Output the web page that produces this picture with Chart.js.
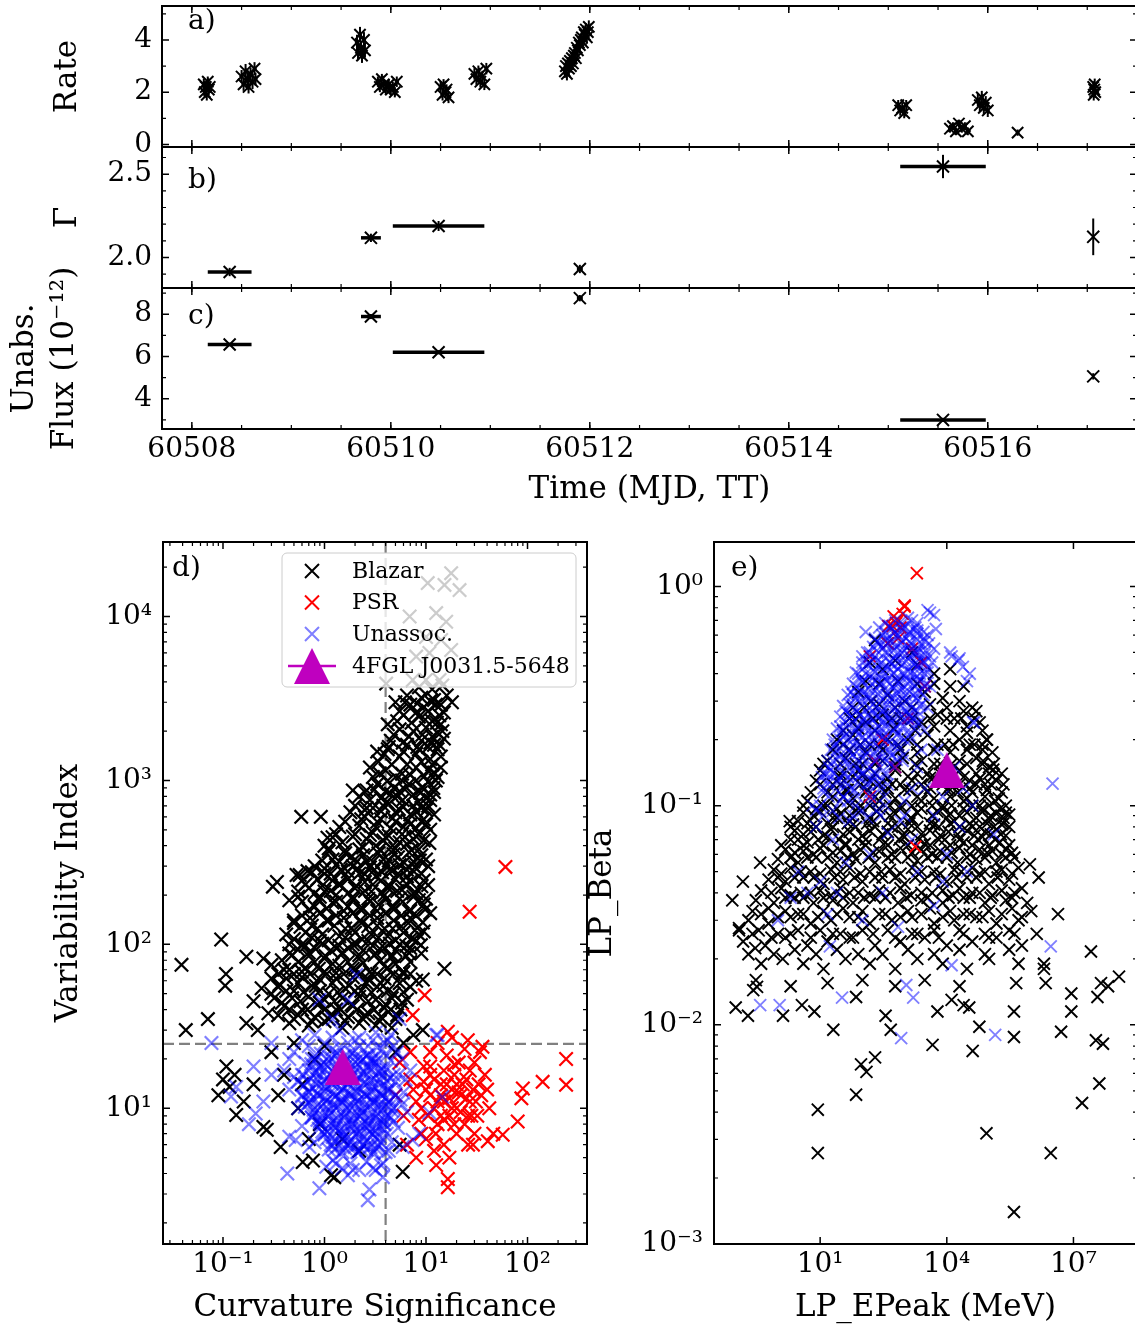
<!DOCTYPE html>
<html>
<head>
<meta charset="utf-8">
<script src="https://cdn.jsdelivr.net/npm/chart.js@4.4.0/dist/chart.umd.min.js"></script>
<style>
html, body { margin: 0; padding: 0; background: #fff; width: 1135px; height: 1328px; overflow: hidden; }
canvas { position: absolute; }
</style>
</head>
<body>
<canvas id="panelA" width="1140" height="165" style="left:0;top:0"></canvas>
<canvas id="panelB" width="1140" height="141" style="left:0;top:147px"></canvas>
<canvas id="panelC" width="1140" height="272" style="left:0;top:238px"></canvas>
<canvas id="panelD" width="600" height="798" style="left:0;top:530px"></canvas>
<canvas id="panelE" width="580" height="798" style="left:560px;top:530px"></canvas>
<script>
// ---- a) count rate light curve ----
const rateTime = [
  60508.12, 60508.13, 60508.14, 60508.15, 60508.16, 60508.17, 60508.18,
  60508.50, 60508.52, 60508.54, 60508.56, 60508.57, 60508.59, 60508.61, 60508.63, 60508.64,
  60509.66, 60509.67, 60509.69, 60509.70, 60509.71, 60509.73, 60509.74,
  60509.87, 60509.89, 60509.91, 60509.93, 60509.95,
  60509.98, 60510.00, 60510.02, 60510.04, 60510.06,
  60510.50, 60510.52, 60510.53, 60510.55, 60510.56, 60510.58,
  60510.84, 60510.86, 60510.88, 60510.90, 60510.92, 60510.94, 60510.96,
  60511.75, 60511.76, 60511.77, 60511.78, 60511.79, 60511.80, 60511.81, 60511.82, 60511.83,
  60511.84, 60511.85, 60511.86, 60511.87, 60511.88, 60511.89, 60511.90, 60511.91, 60511.92,
  60511.93, 60511.94, 60511.95, 60511.96, 60511.97, 60511.98, 60511.99,
  60515.10, 60515.12, 60515.14, 60515.16, 60515.18,
  60515.62, 60515.65, 60515.68, 60515.71, 60515.74, 60515.77, 60515.80,
  60515.90, 60515.92, 60515.94, 60515.96, 60515.98, 60516.00,
  60516.30,
  60517.06, 60517.065, 60517.07, 60517.075, 60517.08
];
const rateValue = [
  2.3, 2.0, 2.2, 1.9, 2.4, 2.1, 2.2,
  2.6, 2.3, 2.8, 2.5, 2.2, 2.7, 2.4, 2.9, 2.5,
  3.9, 3.5, 4.2, 3.7, 3.4, 4.0, 3.6,
  2.4, 2.2, 2.5, 2.3, 2.1,
  2.3, 2.1, 2.2, 2.0, 2.4,
  2.2, 1.9, 2.3, 2.0, 2.1, 1.8,
  2.7, 2.5, 2.8, 2.4, 2.6, 2.3, 2.9,
  2.8, 3.0, 2.7, 3.1, 2.9, 3.2, 3.0, 3.3, 3.1,
  3.4, 3.5, 3.3, 3.7, 3.6, 3.9, 3.8, 4.0, 4.1,
  3.9, 4.3, 4.2, 4.4, 4.1, 4.3, 4.5,
  1.5, 1.3, 1.4, 1.2, 1.5,
  0.6, 0.7, 0.5, 0.8, 0.6, 0.7, 0.5,
  1.7, 1.5, 1.8, 1.4, 1.6, 1.3,
  0.45,
  2.2, 1.9, 2.1, 2.3, 2.0
];
const rateErr = [
  0.22, 0.22, 0.2, 0.22, 0.2, 0.22, 0.2,
  0.25, 0.25, 0.28, 0.25, 0.25, 0.25, 0.28, 0.25, 0.25,
  0.3, 0.28, 0.3, 0.28, 0.28, 0.3, 0.28,
  0.2, 0.2, 0.2, 0.2, 0.2,
  0.2, 0.2, 0.2, 0.2, 0.2,
  0.22, 0.22, 0.2, 0.22, 0.2, 0.22,
  0.22, 0.22, 0.22, 0.22, 0.22, 0.22, 0.22,
  0.25, 0.25, 0.25, 0.25, 0.25, 0.25, 0.25, 0.25, 0.25,
  0.25, 0.25, 0.25, 0.25, 0.25, 0.25, 0.25, 0.25, 0.25,
  0.25, 0.25, 0.25, 0.25, 0.25, 0.25, 0.25,
  0.2, 0.2, 0.2, 0.2, 0.2,
  0.15, 0.15, 0.15, 0.15, 0.15, 0.15, 0.15,
  0.25, 0.25, 0.25, 0.25, 0.25, 0.25,
  0.12,
  0.22, 0.22, 0.22, 0.22, 0.22
];

// ---- b) photon index, c) unabsorbed flux (same time bins) ----
const specTime = [60508.38, 60509.80, 60510.48, 60511.90, 60515.55, 60517.06];
const specTimeErr = [0.22, 0.1, 0.46, 0.03, 0.43, 0];
const gammaValue = [1.913, 2.118, 2.189, 1.931, 2.546, 2.124];
const gammaErr = [0.025, 0.025, 0.03, 0.025, 0.07, 0.11];
const fluxValue = [6.57, 7.89, 6.20, 8.76, 3.0, 5.06];
const fluxErr = [0.08, 0.12, 0.1, 0.15, 0.1, 0.15];

// ---- d) curvature significance vs variability index ----
const blazarCurvVar = [
  [17.7,18400],[10.4,16000],[15.2,15600],[21.4,14500],[6.9,10000],[12.6,10500],[15.8,9300],[10,7500],
  [14.1,7200],[17.7,6250],[8,5700],[10.8,6000],[4.05,3900],[7.4,4100],[10,4100],[13.6,4100],
  [8.5,3700],[11.5,3600],[14.5,3800],[6.5,3300],[9,3200],[12,3100],[16,3300],[18,3000],
  [5.0,3000],[7.0,2900],[9.5,2800],[12.5,2900],[15,2600],[6.0,2500],[8.5,2450],[11.5,2300],[14,2200],
  [4.2,2200],[5.5,2050],[7.5,2000],[10,2100],[13,1950],[4.5,1750],[6.5,1650],[9,1750],[12,1650],[15,1800],
  [3.9,1450],[5.5,1400],[8,1450],[11,1350],[14,1400],[3.3,1500],
  [2.8,1200],[4,1150],[5.8,1100],[8,1200],[10.5,1150],[13,1050],[3.3,950],[4.8,900],[6.8,950],[9.2,900],
  [12,850],[2.2,800],[3.6,780],[5.2,800],[7.5,820],[10,780],[1.9,870],[2.6,870],
  [2.0,700],[3.0,680],[4.3,720],[6,690],[8,650],[10.5,700],[1.6,560],[2.5,600],[3.6,580],[5,560],[7,540],
  [9.5,580],[2.0,470],[3,480],[4.3,460],[6.2,450],[8.5,470],[11,500],[0.59,600],[0.92,600],[1.07,447],[10.8,415],
  [1.0,400],[1.5,420],[2.2,380],[3.2,400],[4.5,390],[6.5,410],[8.5,380],[1.2,330],[1.8,340],[2.6,320],
  [3.8,330],[5.3,340],[7.5,320],[10,330],[1.0,270],[1.5,280],[2.2,270],[3.2,260],[4.6,280],[6.5,260],[9,270],
  [0.31,225],[0.34,240],[0.53,265],[0.57,265],
  [0.7,220],[1.0,210],[1.4,230],[2.0,220],[2.9,210],[4.1,225],[5.8,215],[8,205],[10.5,230],[0.8,170],
  [1.2,180],[1.7,170],[2.4,165],[3.4,175],[4.8,170],[6.8,160],[9.5,175],[0.45,186],
  [0.5,135],[0.75,130],[1.1,140],[1.6,125],[2.3,135],[3.3,130],[4.7,125],[6.7,135],[9.5,120],[0.6,100],
  [0.9,105],[1.3,95],[1.9,100],[2.7,105],[3.9,95],[5.5,100],[8,105],[0.45,88],[0.7,85],[1.0,82],[1.5,88],
  [2.2,82],[3.1,86],[4.5,84],[6.4,85],[9,88],[9.3,136],[8.9,99],[9.3,61],
  [0.096,107],[0.17,84],[0.25,82],[0.107,66],[0.105,56],[0.24,54],[0.039,75],[15.2,71],[0.071,35],
  [0.043,30],[0.17,33],[9.3,30],[0.2,45],[0.28,38],[0.22,30],[0.3,50],
  [0.3,75],[0.45,70],[0.65,72],[1.0,68],[1.4,74],[2.0,70],[2.9,66],[4.2,72],[6,68],[0.35,55],[0.5,52],
  [0.75,56],[1.1,50],[1.6,54],[2.3,52],[3.3,55],[4.8,50],[7,55],[0.4,42],[0.6,40],[0.9,44],[1.3,40],
  [1.9,42],[2.7,38],[3.9,41],[5.6,40],[0.45,33],[0.7,32],[1.0,34],[1.5,31],[2.2,33],[3.2,32],[4.6,31],
  [0.108,18],[0.1,15],[0.116,13.5],[0.135,9.1],[0.09,12],[0.13,16],[0.16,11],[0.2,14],[0.25,7.7],
  [0.27,7.4],[0.37,5.8],[0.61,4.7],[0.77,4.8],[1.16,3.9],[1.25,3.8],[5.9,4.1],[0.3,22],[0.5,25],[0.8,20],
  [0.4,16],[0.6,14],[1.0,24],[0.35,12],[0.55,10],[0.9,8],[1.5,6.5],[2.2,5.5],[0.7,6.5],[6,25],[7.5,28],
  [5,22],[5.5,6],
  [5.5,2650],[8,2600],[10.5,2650],[13.5,2500],[4.8,1900],[6.8,1850],[9.2,1900],[11.5,1850],[14.5,2000],
  [4.2,1550],[6,1500],[8.5,1550],[10.5,1600],[13,1550],[3.4,1300],[4.6,1250],[6.5,1250],[9,1300],
  [11.5,1250],[14,1200],[3.0,1050],[4.2,1000],[5.8,1000],[8,1000],[10.5,980],[12.5,1000],
  [2.5,850],[4,860],[5.5,860],[8.5,870],[11,820],[1.8,640],[2.5,660],[3.6,650],[5,640],[7,620],[9,680],
  [12,620],[1.4,520],[2.2,530],[3.2,520],[4.5,510],[6,520],[8,510],[10,540],[1.2,450],[2.6,440],[3.8,430],
  [5.5,420],[7.5,440],[9.5,430],[1.1,370],[1.6,360],[2.4,350],[3.4,360],[4.8,355],[6.8,365],[9,350],
  [0.8,300],[1.3,305],[1.9,300],[2.8,295],[4,300],[5.5,305],[7.8,295],[10.5,300],
  [0.6,245],[0.85,250],[1.2,245],[1.7,250],[2.5,240],[3.6,245],[5,250],[7,240],[9.5,245],
  [0.55,195],[0.9,195],[1.3,200],[1.9,195],[2.7,190],[3.9,200],[5.5,190],[7.5,195],[10,190],
  [0.6,150],[0.9,155],[1.3,150],[1.9,155],[2.8,150],[4,155],[5.7,150],[8,150],[11,155],
  [0.42,115],[0.65,118],[0.95,115],[1.4,112],[2,118],[2.9,115],[4.2,112],[6,118],[8.5,115],
  [0.55,93],[0.8,95],[1.15,92],[1.7,95],[2.4,92],[3.5,94],[5,92],[7,95],
  [0.38,80],[0.55,78],[0.8,78],[1.2,76],[1.7,78],[2.4,77],[3.5,79],[5,76],[7,78],
  [0.3,62],[0.42,62],[0.6,63],[0.9,61],[1.3,62],[1.9,63],[2.7,61],[3.9,62],[5.6,63],[8,60],
  [0.32,47],[0.48,47],[0.7,48],[1.0,46],[1.5,47],[2.2,48],[3.2,46],[4.6,47],[6.5,46],
  [0.35,37],[0.55,37],[0.8,36],[1.2,37],[1.7,36],[2.5,37],[3.6,36],[5.2,37],
  [1.3,470],[1.9,455],[2.8,465],[4,450],[5.8,470],[8,455],[1.1,385],[1.6,375],[2.4,390],[3.5,380],[5,385],
  [7.2,375],[0.95,325],[1.4,320],[2.0,330],[3.0,318],[4.3,325],[6.1,315],[8.7,325],[0.75,275],[1.15,270],
  [1.7,278],[2.5,268],[3.7,275],[5.3,270],[7.6,278],[0.65,232],[0.95,228],[1.4,235],[2.05,228],[3,232],
  [4.4,226],[6.4,234],[9,226],[0.6,182],[0.88,188],[1.3,182],[1.9,188],[2.8,183],[4,188],[5.9,182],[8.5,186],
  [0.7,162],[1.05,165],[1.55,160],[2.25,164],[3.3,160],[4.8,163],[7,160],[9.8,163],[0.58,128],[0.85,125],
  [1.25,130],[1.85,126],[2.7,129],[3.9,125],[5.7,129],[8.2,126],[0.5,108],[0.75,110],[1.1,106],[1.6,110],
  [2.35,107],[3.4,110],[5,106],[7.2,109],[0.48,86],[0.7,89],[1.02,85],[1.5,89],[2.2,86],[3.2,88],[4.7,85],
  [6.8,89],[0.4,70],[0.6,68],[0.88,71],[1.3,67],[1.9,71],[2.8,68],[4.1,71],[5.9,67],[0.36,57],[0.55,58],
  [0.82,56],[1.2,58],[1.75,56],[2.6,58],[3.8,56],[5.5,58],[0.38,44],[0.58,45],[0.85,43],[1.25,45],[1.85,43],
  [2.7,45],[4,43],[5.8,44],[0.5,35],[0.75,34],[1.1,35],[1.6,34],[2.4,35],[3.5,34],[5,35],
  [2.3,580],[3.3,560],[4.7,590],[6.6,570],[9,560],[2.8,760],[4.1,740],[5.9,760],[8.4,740],[11,760],
  [3.5,1100],[5,1050],[7,1080],[9.6,1060],[12,1120],[4.3,1600],[5.9,1700],[8.2,1600],[11,1700],[13.5,1650],
  [5.2,2300],[7.2,2250],[9.8,2350],[12.8,2250],[6.2,3000],[8.2,2950],[11,3050],[14,2900],[3.1,880],
  [4.5,830],[6.2,880],[8.8,840],[11.8,900],[2.6,680],[3.8,700],[5.4,670],[7.5,700],[10,660],
  [0.68,280],[1.0,290],[1.45,285],[2.1,290],[3.1,285],[4.5,290],[6.5,285],
  [0.55,210],[0.8,205],[1.15,212],[1.7,205],[2.5,212],[3.6,205],[5.2,212],[7.5,205],
  [0.5,140],[0.72,145],[1.05,140],[1.55,145],[2.25,140],[3.3,145],[4.8,140],[7,145],
  [0.45,100],[0.65,98],[0.95,101],[1.4,98],[2.05,101],[3,98],[4.4,101],[6.4,98],
  [0.35,66],[0.5,66],[0.72,66],[1.05,66],[1.55,66],[2.25,66],[3.3,66],[4.8,66],[7,66],
  [0.42,52],[0.62,51],[0.9,52],[1.35,51],[2,52],[2.9,51],[4.2,52],[6,51],
  [0.45,40],[0.68,40],[1.0,40],[1.45,40],[2.1,40],[3.1,40],[4.5,40]
];
const psrCurvVar = [
  [5,12],[6,9],[7,15],[8,11],[9,7],[10,13],[11,18],[12,10],[13,8],[14,14],[15,11],[16,21],[17,9],[18,13],
  [19,16],[20,10],[22,12],[24,8],[25,15],[27,11],[29,13],[32,9],[35,12],[38,16],[42,10],[46,7],[6.5,6],
  [8,5],[9.5,18],[11,22],[13,25],[18,27],[21,19],[24,23],[30,19],[34,22],[5.5,19],[7,22],[10,6.5],
  [12,5.5],[15,6],[17,5],[20,7],[26,6],[30,7],[9,10],[11,12],[13,11],[16,14],[14,9],[19,8],[23,14],
  [26,9],[33,14],[40,13],
  [7.5,13],[9.5,14.5],[12,15],[14,12],[17,11.5],[20,14],[22,9.5],[25,11.5],[28,9],[31,11],[10.5,9],
  [12.5,7],[15,8.5],[18,10],[21,12.5],[8.5,8.5],[11,16],[15,17],[19,18.5],[27,17],
  [16.4,29.3],[25.8,26],[36,23.7],[240,20],[240,13.9],[141,14.5],[90,13.2],[87,11.5],[80,8.3],[57,6.9],
  [40.6,6.3],[29,6.0],[16.4,3.7],[16.4,3.3],[12.6,4.5],[26.9,158],[9.7,49],[7.4,37],[60.6,297]
];
const unassocCurvVar = [
  [0.8,28],[1.4,30],[2.2,27],[3.2,29],[4.5,28],
  [0.5,22],[0.8,21],[1.2,23],[1.8,22],[2.6,21],[3.7,23],[5.2,22],
  [0.4,17],[0.6,16],[0.9,18],[1.3,17],[1.9,16],[2.7,18],[3.8,17],[5.4,16],[7,17],
  [0.45,13],[0.7,12.5],[1.0,13.5],[1.5,13],[2.1,12.5],[3.0,13.5],[4.2,13],[6,12.5],
  [0.55,10],[0.8,9.5],[1.2,10.5],[1.7,10],[2.4,9.5],[3.4,10.5],[4.8,10],[6.5,9.5],
  [0.6,7.8],[0.9,8.2],[1.3,7.6],[1.9,8],[2.7,7.8],[3.8,8.1],[5.3,7.6],
  [0.8,6.2],[1.2,5.9],[1.7,6.1],[2.4,6],[3.4,5.8],[4.6,6.2],
  [1.2,4.8],[1.8,4.6],[2.6,4.7],[3.6,4.5],
  [1.0,25],[1.7,25],[2.7,24],[3.9,25],[0.65,19],[1.1,19.5],[1.6,19],[2.3,19.5],[3.2,19],[4.5,19.5],
  [0.55,14.5],[0.85,15],[1.25,14.5],[1.8,15],[2.5,14.5],[3.5,15],[5,14.5],[0.65,11.3],[1.0,11.5],
  [1.45,11.3],[2.0,11.5],[2.9,11.3],[4.0,11.5],[5.6,11.3],[0.75,8.8],[1.1,9],[1.55,8.8],[2.2,9],
  [3.1,8.8],[4.3,9],[1.0,7],[1.5,6.9],[2.1,7],[3,6.9],[4.1,7],[1.45,5.3],[2.1,5.4],[3,5.3],[4,5.4],
  [0.6,26],[1.2,27],[2.0,26],[3.0,26],[4.2,26],[0.7,24],[1.4,23.5],[2.2,24],[3.3,23.5],[4.8,24],
  [0.45,20],[0.75,20],[1.3,21],[2.0,20.5],[2.9,20],[4.1,21],[5.8,20],
  [0.5,15.5],[0.8,16.5],[1.15,16],[1.7,16.5],[2.4,16],[3.4,16.5],[4.8,16],[6.3,15],
  [0.6,12],[0.9,12],[1.3,12],[1.8,12.2],[2.6,12],[3.6,12.2],[5.0,12],
  [0.7,10.8],[1.05,10.2],[1.5,10.8],[2.2,10.2],[3.1,10.8],[4.3,10.2],[5.8,10.5],
  [0.85,8.5],[1.2,8.3],[1.75,8.5],[2.5,8.3],[3.5,8.5],[4.8,8.3],
  [0.95,7.2],[1.4,7.3],[2.0,7.4],[2.8,7.2],[3.9,7.4],[1.1,5.6],[1.6,5.7],[2.3,5.6],[3.2,5.7],[4.3,5.5],
  [1.5,4.3],[2.2,4.2],[3.0,4.3],
  [0.92,21.5],[1.1,20.6],[1.33,21.8],[1.58,20.9],[1.9,21.7],[2.25,20.5],[2.7,21.3],[3.1,20.2],
  [0.74,18.6],[0.88,17.7],[1.05,18.4],[1.27,17.9],[1.5,18.8],[1.8,17.6],[2.15,18.5],[2.6,17.8],[3.05,18.9],[3.6,17.5],
  [0.62,15.9],[0.74,15.2],[0.9,16.1],[1.07,15.4],[1.28,16.2],[1.52,15.1],[1.85,15.8],[2.2,15.3],[2.6,16.0],[3.1,15.2],[3.7,15.9],[4.4,15.3],
  [0.63,13.8],[0.77,13.2],[0.93,13.9],[1.12,13.1],[1.33,13.7],[1.6,13.3],[1.92,13.9],[2.3,13.0],[2.75,13.6],[3.25,13.2],[3.9,13.8],[4.5,13.1],
  [0.6,11.8],[0.73,11.3],[0.87,11.9],[1.06,11.2],[1.27,11.7],[1.52,11.4],[1.82,11.9],[2.18,11.2],[2.6,11.8],[3.1,11.3],[3.7,11.9],[4.4,11.2],
  [0.64,10.2],[0.78,9.8],[0.94,10.3],[1.13,9.7],[1.35,10.2],[1.62,9.8],[1.95,10.3],[2.33,9.7],[2.8,10.2],[3.35,9.8],[4.0,10.3],[4.6,9.7],
  [0.75,8.8],[0.9,8.4],[1.08,8.9],[1.3,8.4],[1.56,8.8],[1.87,8.5],[2.24,8.9],[2.7,8.4],[3.2,8.8],[3.85,8.5],[4.5,8.8],
  [0.88,7.5],[1.06,7.2],[1.27,7.6],[1.52,7.2],[1.83,7.5],[2.2,7.2],[2.62,7.6],[3.15,7.3],[3.7,7.5],
  [1.05,6.5],[1.27,6.3],[1.52,6.6],[1.83,6.2],[2.2,6.5],[2.62,6.3],[3.15,6.6],[3.6,6.2],
  [1.25,5.6],[1.5,5.4],[1.8,5.7],[2.15,5.4],[2.6,5.6],[3.05,5.4],
  [0.82,19.8],[0.98,19.1],[1.18,20.2],[1.4,19.3],[1.68,20.1],[2.0,19.2],[2.4,20.0],[2.85,19.4],[3.4,20.1],
  [0.7,17.0],[0.84,16.6],[1.0,17.2],[1.2,16.7],[1.43,17.3],[1.72,16.6],[2.05,17.2],[2.45,16.7],[2.9,17.3],[3.5,16.8],[4.1,17.2],
  [0.68,14.6],[0.82,14.1],[0.98,14.7],[1.17,14.2],[1.4,14.8],[1.68,14.1],[2.0,14.7],[2.4,14.2],[2.85,14.8],[3.4,14.2],[4.1,14.7],
  [0.7,12.6],[0.84,12.3],[1.0,12.7],[1.2,12.2],[1.43,12.6],[1.72,12.3],[2.05,12.7],[2.45,12.2],[2.9,12.6],[3.5,12.3],[4.2,12.7],
  [0.72,10.9],[0.86,10.5],[1.03,11.0],[1.23,10.5],[1.47,10.9],[1.76,10.5],[2.1,11.0],[2.5,10.5],[3.0,10.9],[3.6,10.5],[4.3,10.9],
  [0.8,9.3],[0.96,9.0],[1.15,9.4],[1.37,9.0],[1.64,9.3],[1.96,9.0],[2.35,9.4],[2.8,9.0],[3.35,9.3],[4.0,9.0],
  [0.92,8.0],[1.1,7.8],[1.32,8.1],[1.58,7.8],[1.9,8.1],[2.27,7.8],[2.72,8.1],[3.25,7.8],[3.9,8.0],
  [1.0,6.9],[1.2,6.7],[1.44,7.0],[1.72,6.7],[2.06,7.0],[2.46,6.7],[2.95,7.0],[3.5,6.7],
  [1.15,6.0],[1.38,5.9],[1.65,6.0],[1.98,5.8],[2.37,6.0],[2.84,5.8],[3.35,6.0],
  [0.077,25],[0.12,11.8],[0.135,13.5],[0.21,9.3],[0.43,4.0],[0.89,3.25],[2.67,2.75],[2.77,3.2],[3.76,3.8],
  [12.6,28],[2.05,65],[0.89,46],[1.7,46],[0.18,8],[0.45,6.7],[0.52,6.4],[0.71,5.8],[1.04,4.4],[1.3,4.6],
  [1.7,3.9],[1.9,4.2],[3.2,4.2],[3.8,4.6],[5.9,5.8],[7.4,6.4],[8.6,7.0],[10.8,9.4],[14.5,11.7],[13,28],
  [0.3,16],[0.25,11],[0.2,18],[0.3,25],[5.5,35],[1.2,35]
];
const sourceCurvVar = [[1.51, 17.9]];
const curvThreshold = 4;
const varThreshold = 24.725;

// ---- e) LP_EPeak vs LP_Beta ----
const blazarEpeakBeta = [
  [200,0.57],[400,0.55],[1500,0.5],
  [150,0.45],[300,0.42],[600,0.46],[2000,0.44],[5000,0.4],[12000,0.42],
  [80,0.33],[160,0.3],[400,0.32],[1000,0.3],[3000,0.33],[8000,0.31],[20000,0.3],[40000,0.28],
  [50,0.25],[120,0.24],[300,0.26],[800,0.25],[2500,0.24],[6000,0.26],[15000,0.25],[30000,0.23],[60000,0.24],
  [25,0.2],[60,0.21],[150,0.19],[400,0.2],[1200,0.2],[3500,0.21],[9000,0.19],[20000,0.2],[45000,0.19],[90000,0.2],
  [15,0.16],[40,0.165],[100,0.155],[300,0.16],[900,0.165],[2500,0.16],[7000,0.155],[20000,0.16],[50000,0.165],[100000,0.15],
  [8,0.13],[20,0.125],[60,0.135],[150,0.13],[500,0.125],[1500,0.13],[5000,0.135],[14000,0.125],[35000,0.13],[80000,0.125],[150000,0.13],
  [5,0.105],[12,0.1],[35,0.11],[90,0.1],[250,0.105],[800,0.1],[2500,0.105],[8000,0.1],[25000,0.105],[60000,0.1],[140000,0.105],
  [3,0.085],[8,0.08],[25,0.088],[60,0.082],[180,0.085],[500,0.08],[1500,0.087],[5000,0.082],[15000,0.085],[40000,0.08],[100000,0.087],[200000,0.082],
  [2,0.07],[5,0.068],[15,0.072],[40,0.067],[120,0.07],[350,0.068],[1000,0.072],[3000,0.067],[9000,0.07],[25000,0.068],[70000,0.072],[180000,0.068],
  [1,0.057],[3,0.055],[8,0.058],[25,0.055],[70,0.057],[200,0.055],[600,0.058],[2000,0.056],[6000,0.058],[18000,0.055],[50000,0.057],[150000,0.055],[400000,0.058],
  [0.6,0.046],[1.5,0.045],[4,0.047],[12,0.044],[35,0.046],[100,0.045],[300,0.047],[1000,0.044],[3000,0.046],[10000,0.045],[30000,0.047],[100000,0.044],[300000,0.046],
  [0.3,0.037],[0.8,0.036],[2.5,0.038],[7,0.036],[20,0.037],[60,0.036],[200,0.038],[700,0.036],[2500,0.037],[8000,0.036],[25000,0.038],[80000,0.036],[250000,0.037],[800000,0.036],
  [0.2,0.03],[0.6,0.029],[2,0.031],[6,0.029],[18,0.03],[50,0.031],[150,0.029],[500,0.03],[1500,0.031],[5000,0.029],[15000,0.03],[50000,0.031],[150000,0.029],[500000,0.03],
  [0.15,0.024],[0.5,0.023],[1.5,0.025],[5,0.023],[15,0.024],[50,0.025],[200,0.023],[800,0.024],[3000,0.025],[10000,0.023],[40000,0.024],[150000,0.025],[600000,0.023],
  [0.4,0.019],[1.3,0.02],[4,0.019],[12,0.018],[40,0.02],[150,0.019],[600,0.018],[2000,0.02],[8000,0.019],[30000,0.018],[100000,0.02],[500000,0.019],[2000000,0.018],
  [0.3,0.016],[2,0.015],[15,0.0155],[100,0.016],[600,0.015],[3000,0.016],[20000,0.015],
  [120,0.37],[250,0.36],[700,0.37],[2000,0.36],[5000,0.36],[12000,0.35],[25000,0.35],
  [60,0.28],[110,0.28],[250,0.29],[600,0.28],[1500,0.28],[4000,0.29],[10000,0.28],[25000,0.27],[50000,0.27],
  [35,0.22],[80,0.225],[200,0.22],[550,0.225],[1800,0.22],[5000,0.23],[12000,0.22],[30000,0.215],[70000,0.22],
  [20,0.18],[50,0.18],[120,0.175],[300,0.18],[800,0.18],[2000,0.175],[5000,0.18],[12000,0.175],[30000,0.18],[70000,0.18],[120000,0.175],
  [10,0.145],[30,0.14],[80,0.145],[200,0.14],[600,0.145],[2000,0.14],[3500,0.14],[7000,0.14],[20000,0.145],[50000,0.14],[100000,0.14],[200000,0.14],
  [6,0.115],[15,0.115],[45,0.118],[120,0.115],[350,0.115],[1000,0.118],[3500,0.115],[10000,0.118],[18000,0.115],[40000,0.115],[90000,0.118],[200000,0.115],
  [4,0.093],[10,0.094],[30,0.092],[80,0.093],[220,0.094],[600,0.092],[2000,0.093],[6000,0.094],[12000,0.092],[30000,0.093],[70000,0.094],[150000,0.092],[250000,0.093],
  [2.5,0.077],[6,0.076],[18,0.078],[50,0.076],[150,0.077],[400,0.076],[1200,0.078],[4000,0.077],[11000,0.076],[30000,0.077],[80000,0.076],[150000,0.078],
  [1.5,0.063],[4,0.062],[10,0.064],[30,0.062],[90,0.063],[250,0.062],[800,0.064],[2500,0.063],[7000,0.062],[20000,0.064],[60000,0.063],[120000,0.062],[250000,0.063],
  [0.8,0.051],[2,0.052],[6,0.05],[18,0.051],[50,0.052],[150,0.05],[450,0.051],[1500,0.052],[5000,0.05],[15000,0.051],[40000,0.052],[80000,0.05],[200000,0.051],[500000,0.052],
  [0.4,0.041],[1.2,0.042],[3.5,0.04],[10,0.041],[30,0.042],[80,0.04],[250,0.041],[800,0.042],[2500,0.04],[8000,0.041],[20000,0.042],[60000,0.04],[200000,0.041],[600000,0.042],
  [0.25,0.033],[0.6,0.034],[1.5,0.033],[4,0.032],[12,0.033],[35,0.034],[100,0.033],[350,0.032],[1200,0.033],[4000,0.034],[12000,0.033],[35000,0.032],[100000,0.033],[350000,0.034],[1e6,0.033],
  [0.12,0.027],[0.35,0.027],[1,0.026],[3,0.027],[10,0.027],[30,0.026],[100,0.027],[400,0.027],[1500,0.026],[5000,0.027],[20000,0.027],[80000,0.026],[300000,0.027],
  [0.2,0.021],[0.8,0.021],[2.5,0.022],[8,0.021],[25,0.022],[80,0.021],[300,0.021],[1200,0.022],[5000,0.021],[20000,0.022],[80000,0.021],[300000,0.022],
  [30,0.135],[100,0.137],[400,0.133],[1200,0.136],[4000,0.134],[10000,0.13],[25000,0.135],[60000,0.133],[120000,0.136],
  [20,0.11],[60,0.108],[200,0.11],[600,0.108],[2000,0.11],[5000,0.108],[12000,0.11],[30000,0.108],[80000,0.11],[170000,0.108],
  [7,0.09],[20,0.088],[50,0.09],[150,0.088],[450,0.09],[1400,0.088],[4500,0.09],[10000,0.088],[20000,0.09],[50000,0.088],[110000,0.09],[220000,0.088],
  [4,0.074],[12,0.073],[35,0.074],[100,0.073],[300,0.074],[900,0.073],[2500,0.074],[7000,0.073],[18000,0.074],[45000,0.073],[110000,0.074],[250000,0.073],
  [2.5,0.061],[7,0.06],[20,0.061],[60,0.06],[180,0.061],[500,0.06],[1500,0.061],[4500,0.06],[13000,0.061],[35000,0.06],[90000,0.061],[200000,0.06],[350000,0.061],
  [1.2,0.049],[3.5,0.05],[10,0.049],[30,0.05],[90,0.049],[280,0.05],[800,0.049],[2500,0.05],[7000,0.049],[22000,0.05],[60000,0.049],[150000,0.05],[350000,0.049],
  [0.7,0.04],[2,0.039],[6,0.04],[18,0.039],[50,0.04],[150,0.039],[450,0.04],[1400,0.039],[4500,0.04],[14000,0.039],[40000,0.04],[120000,0.039],[400000,0.04],
  [0.4,0.032],[1,0.031],[3,0.032],[9,0.031],[25,0.032],[80,0.031],[250,0.032],[800,0.031],[2500,0.032],[8000,0.031],[25000,0.032],[70000,0.031],[200000,0.032],[600000,0.031],
  [0.25,0.026],[0.7,0.025],[2,0.026],[6,0.025],[20,0.026],[60,0.025],[180,0.026],[600,0.025],[2000,0.026],[6500,0.025],[25000,0.026],[100000,0.025],[400000,0.026],
  [70,0.25],[180,0.25],[500,0.25],[1500,0.25],[4000,0.25],[10000,0.25],[22000,0.25],[45000,0.25],
  [35,0.19],[90,0.19],[250,0.19],[700,0.19],[2000,0.19],[6000,0.19],[14000,0.19],[35000,0.19],[70000,0.19],
  [12,0.155],[30,0.155],[70,0.155],[200,0.155],[600,0.155],[1800,0.155],[5000,0.155],[13000,0.155],[30000,0.155],[70000,0.155],[130000,0.155],
  [10,0.125],[30,0.125],[90,0.125],[250,0.125],[800,0.125],[2500,0.125],[8000,0.125],[20000,0.125],[50000,0.125],[110000,0.125],[220000,0.125],
  [4,0.1],[15,0.1],[50,0.1],[150,0.1],[450,0.1],[1500,0.1],[4500,0.1],[13000,0.1],[40000,0.1],[100000,0.1],[250000,0.1],
  [2,0.08],[6,0.08],[20,0.08],[70,0.08],[200,0.08],[700,0.08],[2000,0.08],[6500,0.08],[20000,0.08],[60000,0.08],[130000,0.08],[300000,0.08],
  [1.2,0.066],[4,0.066],[12,0.066],[40,0.066],[120,0.066],[400,0.066],[1200,0.066],[4000,0.066],[12000,0.066],[40000,0.066],[100000,0.066],[300000,0.066],
  [40,0.118],[130,0.118],[400,0.12],[1300,0.118],[4000,0.12],[12000,0.118],[35000,0.12],[90000,0.118],
  [8,0.097],[25,0.097],[80,0.097],[250,0.097],[800,0.097],[2500,0.097],[8000,0.097],[25000,0.097],[70000,0.097],[180000,0.097],
  [5,0.083],[15,0.083],[45,0.083],[130,0.083],[400,0.083],[1300,0.083],[4000,0.083],[12000,0.083],[35000,0.083],[90000,0.083],[220000,0.083],
  [3,0.07],[9,0.07],[28,0.07],[80,0.07],[250,0.07],[750,0.07],[2200,0.07],[6500,0.07],[20000,0.07],[55000,0.07],[140000,0.07],
  [2,0.058],[5,0.058],[15,0.058],[45,0.058],[140,0.058],[400,0.058],[1200,0.058],[3500,0.058],[10000,0.058],[30000,0.058],[80000,0.058],[250000,0.058],
  [1,0.047],[2.5,0.047],[7,0.047],[22,0.047],[65,0.047],[200,0.047],[600,0.047],[1800,0.047],[5500,0.047],[17000,0.047],[50000,0.047],[160000,0.047],
  [1.5,0.038],[4,0.038],[12,0.038],[35,0.038],[110,0.038],[350,0.038],[1100,0.038],[3500,0.038],[11000,0.038],[35000,0.038],[110000,0.038],[350000,0.038],
  [0.083,0.037],[0.12,0.0276],[0.29,0.0224],[0.26,0.0144],[0.32,0.0149],[0.10,0.012],[0.195,0.011],[1.32,0.011],
  [3.7,0.0123],[7.3,0.0115],[20.5,0.0095],[71,0.0134],[355,0.011],[470,0.0095],[200,0.0071],[93,0.0066],
  [125,0.0061],[71,0.0048],[8.8,0.0041],[8.8,0.0026],[4600,0.0081],[6000,0.0115],[13000,0.013],[25000,0.0123],
  [34000,0.012],[41000,0.0076],[59000,0.0098],[87000,0.0032],[390000,0.0115],[390000,0.0088],[2.2e6,0.0155],
  [5.1e6,0.0093],[8.9e6,0.0139],[8.9e6,0.0115],[2.6e7,0.0216],[3.7e7,0.0134],[4.5e7,0.0155],[6.6e7,0.015],
  [1.2e8,0.0166],[3.4e7,0.0085],[5e7,0.0082],[4.1e7,0.0054],[1.6e7,0.0044],[2.9e6,0.0026],[3.9e5,0.0014],
  [4.4e5,0.0155],[2e6,0.019],[1.35e6,0.026],[4.3e6,0.032],
  [87000,0.2],[72000,0.16],[126000,0.146],[3e5,0.091],[1.9e5,0.074],[1.9,0.085],[0.38,0.055],[0.148,0.045],
  [9.3e5,0.054],[1.5e6,0.047]
];
const psrEpeakBeta = [
  [1950,1.15],[1000,0.81],[630,0.68],[520,0.66],[150,0.48],[1800,0.065],[1000,0.82],[550,0.73],[800,0.65],
  [410,0.66],[400,0.55],[700,0.58],[1500,0.52],[2500,0.45],[3000,0.35],[300,0.2],[600,0.15],[1200,0.25],
  [200,0.16],[150,0.11],[700,0.7],[900,0.75]
];
const unassocEpeakBeta = [
  [600,0.7],[1200,0.72],[2000,0.68],
  [300,0.6],[600,0.62],[1100,0.58],[2000,0.61],[3500,0.6],
  [150,0.5],[300,0.52],[600,0.48],[1000,0.51],[1800,0.5],[3000,0.49],[5000,0.52],
  [100,0.42],[200,0.41],[400,0.43],[700,0.42],[1200,0.41],[2000,0.43],[3500,0.42],
  [70,0.35],[140,0.34],[280,0.36],[500,0.35],[900,0.34],[1600,0.36],[3000,0.35],
  [50,0.29],[100,0.3],[200,0.28],[400,0.29],[800,0.3],[1500,0.28],[2500,0.29],
  [40,0.24],[80,0.23],[160,0.25],[320,0.24],[650,0.23],[1200,0.25],[2200,0.24],
  [30,0.2],[60,0.19],[120,0.2],[250,0.21],[500,0.19],[1000,0.2],
  [20,0.16],[45,0.155],[100,0.165],[200,0.16],[450,0.155],[900,0.16],
  [15,0.13],[35,0.125],[80,0.135],[180,0.13],[400,0.125],
  [10,0.1],[30,0.105],[70,0.1],[160,0.105],[350,0.1],
  [450,0.66],[900,0.65],[1600,0.64],[250,0.55],[450,0.56],[800,0.55],[1400,0.55],[2500,0.55],[120,0.46],
  [230,0.46],[450,0.45],[850,0.46],[1500,0.45],[2500,0.46],[90,0.38],[170,0.38],[330,0.39],[600,0.38],
  [1100,0.38],[2000,0.39],[60,0.32],[120,0.32],[240,0.32],[450,0.31],[850,0.32],[1600,0.32],[45,0.265],
  [90,0.26],[180,0.265],[350,0.26],[700,0.265],[1300,0.26],[35,0.22],[70,0.22],[140,0.22],[280,0.225],
  [550,0.22],[25,0.18],[50,0.175],[110,0.18],[220,0.18],[450,0.175],[18,0.145],[40,0.14],[90,0.145],
  [200,0.14],[12,0.115],[28,0.115],[65,0.118],[150,0.115],
  [350,0.68],[800,0.69],[1500,0.7],[200,0.58],[400,0.58],[700,0.6],[1300,0.6],[2800,0.58],[100,0.48],
  [200,0.48],[400,0.5],[700,0.5],[1300,0.48],[2200,0.5],[4000,0.48],[80,0.4],[150,0.4],[300,0.41],
  [550,0.4],[1000,0.4],[1700,0.4],[3000,0.4],[55,0.33],[110,0.33],[220,0.34],[400,0.33],[750,0.34],
  [1300,0.33],[2300,0.33],[40,0.27],[75,0.27],[150,0.28],[300,0.27],[600,0.28],[1100,0.27],[2000,0.27],
  [30,0.23],[60,0.24],[120,0.235],[240,0.23],[480,0.24],[900,0.23],[1700,0.235],[22,0.19],[45,0.2],
  [90,0.19],[180,0.195],[360,0.2],[700,0.19],[16,0.15],[35,0.16],[70,0.15],[150,0.15],[300,0.16],
  [600,0.15],[12,0.12],[25,0.13],[55,0.12],[120,0.125],[260,0.12],[8,0.095],[20,0.095],[45,0.105],
  [100,0.095],[220,0.095],
  [250,0.65],[500,0.64],[1000,0.66],[1800,0.65],[180,0.53],[350,0.54],[650,0.53],[1200,0.53],[2200,0.52],
  [130,0.44],[260,0.44],[500,0.44],[900,0.44],[1700,0.44],[3000,0.45],[100,0.37],[200,0.37],[380,0.37],
  [700,0.36],[1300,0.37],[2400,0.37],[70,0.31],[140,0.31],[280,0.3],[550,0.31],[1000,0.3],[1900,0.31],
  [55,0.255],[110,0.25],[220,0.255],[430,0.25],[850,0.255],[1600,0.25],[40,0.21],[80,0.21],[160,0.21],
  [320,0.21],[650,0.21],[1300,0.21],[30,0.17],[60,0.17],[120,0.17],[240,0.17],[480,0.17],[950,0.17],
  [22,0.14],[45,0.135],[95,0.14],[190,0.135],[380,0.14],[16,0.11],[35,0.11],[75,0.11],[160,0.11],
  [330,0.11],[12,0.09],[28,0.088],[60,0.09],[130,0.088],[270,0.09],[120,0.62],[2800,0.62],[3800,0.55],
  [4500,0.45],[4000,0.35],[3500,0.28],[3000,0.22],[2500,0.18],[2000,0.15],[1500,0.12],[1000,0.105],[800,0.085],
  [350,0.62],[550,0.61],[850,0.63],[1300,0.62],[2000,0.63],
  [220,0.56],[350,0.57],[550,0.56],[850,0.57],[1300,0.56],[2000,0.57],[3000,0.56],
  [130,0.5],[220,0.51],[350,0.5],[550,0.51],[850,0.5],[1300,0.51],[2000,0.5],[3200,0.51],
  [100,0.45],[170,0.455],[280,0.45],[450,0.455],[700,0.45],[1100,0.455],[1800,0.45],[2800,0.455],
  [70,0.405],[120,0.4],[200,0.405],[350,0.4],[550,0.405],[900,0.4],[1400,0.405],[2300,0.4],[3500,0.405],
  [60,0.36],[100,0.365],[170,0.36],[280,0.365],[450,0.36],[750,0.365],[1200,0.36],[2000,0.365],[3200,0.36],
  [45,0.32],[80,0.325],[140,0.32],[230,0.325],[380,0.32],[650,0.325],[1050,0.32],[1800,0.325],[2800,0.32],
  [35,0.285],[60,0.29],[100,0.285],[180,0.29],[300,0.285],[500,0.29],[850,0.285],[1400,0.29],[2300,0.285],
  [30,0.255],[50,0.26],[85,0.255],[140,0.26],[250,0.255],[420,0.26],[700,0.255],[1200,0.26],[2000,0.255],
  [25,0.225],[40,0.23],[70,0.225],[120,0.23],[200,0.225],[350,0.23],[600,0.225],[1000,0.23],[1700,0.225],
  [20,0.2],[35,0.205],[60,0.2],[100,0.205],[170,0.2],[300,0.205],[500,0.2],[850,0.205],[1400,0.2],
  [18,0.18],[30,0.182],[50,0.18],[85,0.182],[150,0.18],[260,0.182],[430,0.18],[750,0.182],
  [15,0.16],[25,0.162],[42,0.16],[75,0.162],[130,0.16],[220,0.162],[380,0.16],[650,0.162],
  [12,0.14],[20,0.142],[35,0.14],[60,0.142],[110,0.14],[190,0.142],[330,0.14],
  [15,0.125],[25,0.127],[45,0.125],[80,0.127],[140,0.125],[250,0.127],
  [8,0.08],[20,0.07],[50,0.085],[150,0.06],[400,0.075],[1500,0.07],[5000,0.09],[10000,0.06],[20000,0.08],
  [3,0.05],[10,0.045],[40,0.055],[300,0.04],[2000,0.05],[8000,0.045],[30000,0.05],[2,0.038],[15,0.032],
  [100,0.03],[700,0.028],[5000,0.035],[1,0.03],[5,0.04],[25,0.04],
  [3000,0.12],[8000,0.11],[15000,0.15],[6000,0.18],[25000,0.12],[1000,0.09],[40000,0.1],
  [13000,0.48],[19000,0.46],[30000,0.37],[45000,0.24],[3.2e6,0.126],[3500,0.78],[5000,0.74],[14,0.14],
  [6.6,0.1],[1.3e5,0.074],[4000,0.76],[5500,0.64],[12000,0.5],[20000,0.47],[24000,0.43],[35000,0.4],
  [42000,0.24],[11,0.135],[0.38,0.0123],[1.1,0.0123],[33,0.0133],[1100,0.0152],[1600,0.0133],[830,0.0087],
  [1.4e5,0.009],[2.9e6,0.0228],[13000,0.0187],[17,0.0228]
];
const sourceEpeakBeta = [[1.0e4, 0.145]];

// ---- tick labels ----
const timeTicks = [60508, 60510, 60512, 60514, 60516];
const rateTicks = [0, 2, 4];
const gammaTicks = [2.0, 2.5];
const fluxTicks = [4, 6, 8];
const curvTicks = [0.1, 1, 10, 100];
const varTicks = [10, 100, 1000, 10000];
const epeakTicks = [10, 1e4, 1e7];
const betaTicks = [0.001, 0.01, 0.1, 1];

// minor tick positions
const timeMinor = [];
for (let t = 60507.5; t <= 60517.5; t += 0.5) timeMinor.push(t);
function logMinor(lo, hi) {
  const out = [];
  for (let e = lo; e <= hi; e++) for (let m = 2; m <= 9; m++) out.push(m * Math.pow(10, e));
  return out;
}

const FONT = "'DejaVu Serif', serif";
Chart.defaults.font.family = FONT;
Chart.defaults.color = '#000';
Chart.defaults.animation = false;

const SUP = {'0':'⁰','1':'¹','2':'²','3':'³','4':'⁴','5':'⁵','6':'⁶','7':'⁷','8':'⁸','9':'⁹','-':'⁻'};
function powLabel(v) {
  const e = Math.round(Math.log10(v));
  return '10' + String(e).split('').map(c => SUP[c]).join('');
}

// ticks pointing inwards on all four sides, plus the frame
const frameTicks = {
  id: 'frameTicks',
  afterDraw(chart, args, o) {
    const ctx = chart.ctx, a = chart.chartArea;
    const xs = chart.scales.x, ys = chart.scales.y;
    ctx.save();
    ctx.strokeStyle = '#000';
    function xt(vals, len, lw) {
      ctx.lineWidth = lw;
      ctx.beginPath();
      vals.forEach(v => {
        const p = xs.getPixelForValue(v);
        if (p < a.left - 0.5 || p > a.right + 0.5) return;
        ctx.moveTo(p, a.bottom); ctx.lineTo(p, a.bottom - len);
        ctx.moveTo(p, a.top); ctx.lineTo(p, a.top + len);
      });
      ctx.stroke();
    }
    function yt(vals, len, lw) {
      ctx.lineWidth = lw;
      ctx.beginPath();
      vals.forEach(v => {
        const p = ys.getPixelForValue(v);
        if (p < a.top - 0.5 || p > a.bottom + 0.5) return;
        ctx.moveTo(a.left, p); ctx.lineTo(a.left + len, p);
        ctx.moveTo(a.right, p); ctx.lineTo(a.right - len, p);
      });
      ctx.stroke();
    }
    xt(o.xMinor || [], 4, 1.2);
    xt(o.xMajor || [], 7, 1.5);
    yt(o.yMinor || [], 4, 1.2);
    yt(o.yMajor || [], 7, 1.5);
    ctx.lineWidth = 2;
    ctx.strokeRect(a.left, a.top, a.right - a.left, a.bottom - a.top);
    if (o.label) {
      ctx.fillStyle = '#000';
      ctx.font = '28px ' + FONT;
      ctx.textBaseline = 'middle';
      ctx.textAlign = 'left';
      ctx.fillText(o.label, a.left + o.labelDx, a.top + o.labelDy);
    }
    ctx.restore();
  }
};

const errorBars = {
  id: 'errorBars',
  beforeDatasetsDraw(chart) {
    const ctx = chart.ctx, a = chart.chartArea;
    const xs = chart.scales.x, ys = chart.scales.y;
    ctx.save();
    ctx.beginPath();
    ctx.rect(a.left, a.top, a.right - a.left, a.bottom - a.top);
    ctx.clip();
    ctx.strokeStyle = '#000';
    chart.data.datasets.forEach(ds => {
      if (!ds.err) return;
      ds.data.forEach((p, i) => {
        const px = xs.getPixelForValue(p.x), py = ys.getPixelForValue(p.y);
        const ex = ds.err.x[i], ey = ds.err.y[i];
        if (ex > 0) {
          ctx.lineWidth = ds.err.xWidth;
          ctx.beginPath();
          ctx.moveTo(xs.getPixelForValue(p.x - ex), py);
          ctx.lineTo(xs.getPixelForValue(p.x + ex), py);
          ctx.stroke();
        }
        if (ey > 0) {
          ctx.lineWidth = ds.err.yWidth;
          ctx.beginPath();
          ctx.moveTo(px, ys.getPixelForValue(p.y - ey));
          ctx.lineTo(px, ys.getPixelForValue(p.y + ey));
          ctx.stroke();
        }
      });
    });
    ctx.restore();
  }
};

// dashed threshold lines (drawn under the points)
const thresholds = {
  id: 'thresholds',
  beforeDatasetsDraw(chart, args, o) {
    if (!o.x) return;
    const ctx = chart.ctx, a = chart.chartArea;
    const px = chart.scales.x.getPixelForValue(o.x);
    const py = chart.scales.y.getPixelForValue(o.y);
    ctx.save();
    ctx.strokeStyle = '#808080';
    ctx.lineWidth = 2.2;
    ctx.setLineDash([11, 5]);
    ctx.beginPath();
    ctx.moveTo(px, a.top); ctx.lineTo(px, a.bottom);
    ctx.moveTo(a.left, py); ctx.lineTo(a.right, py);
    ctx.stroke();
    ctx.restore();
  }
};

function triangleMarker(size, color) {
  const c = document.createElement('canvas');
  c.width = size; c.height = size;
  const g = c.getContext('2d');
  g.fillStyle = color;
  g.beginPath();
  g.moveTo(size / 2, 0); g.lineTo(size, size); g.lineTo(0, size);
  g.closePath();
  g.fill();
  return c;
}
const triImg = triangleMarker(36, '#bf00bf');

// legend box inside panel d
const boxLegend = {
  id: 'boxLegend',
  afterDatasetsDraw(chart, args, o) {
    if (!o.items) return;
    const ctx = chart.ctx, a = chart.chartArea;
    const bx = a.left + 119, by = a.top + 11, bw = 294, bh = 134;
    ctx.save();
    ctx.fillStyle = 'rgba(255,255,255,0.8)';
    ctx.strokeStyle = '#cccccc';
    ctx.lineWidth = 1;
    ctx.beginPath();
    ctx.roundRect(bx, by, bw, bh, 5);
    ctx.fill();
    ctx.stroke();
    const mx = a.left + 149, tx = a.left + 189;
    const rows = [29, 60.5, 92, 124];
    ctx.font = '22px ' + FONT;
    ctx.textBaseline = 'middle';
    o.items.forEach((it, i) => {
      const y = a.top + rows[i];
      if (it.marker === 'x') {
        ctx.strokeStyle = it.color;
        ctx.lineWidth = 2;
        ctx.beginPath();
        ctx.moveTo(mx - 7, y - 7); ctx.lineTo(mx + 7, y + 7);
        ctx.moveTo(mx - 7, y + 7); ctx.lineTo(mx + 7, y - 7);
        ctx.stroke();
      } else {
        ctx.strokeStyle = it.color;
        ctx.lineWidth = 2.5;
        ctx.beginPath();
        ctx.moveTo(mx - 24, y); ctx.lineTo(mx + 24, y);
        ctx.stroke();
        ctx.drawImage(triImg, mx - 18, y - 18);
      }
      ctx.fillStyle = '#000';
      ctx.fillText(it.text, tx, y + 1);
    });
    ctx.restore();
  }
};

Chart.register(frameTicks, errorBars, thresholds, boxLegend);

function pts(xs, ys) { return xs.map((x, i) => ({x: x, y: ys[i]})); }
function pairs(list) { return list.map(p => ({x: p[0], y: p[1]})); }

function crossSet(label, data, color, radius, width, order) {
  return {
    label: label, data: data, order: order, showLine: false,
    pointStyle: 'crossRot', pointRadius: radius, pointHoverRadius: radius,
    borderColor: color, backgroundColor: color,
    pointBorderColor: color, pointBorderWidth: width, borderWidth: width
  };
}

const tickFont = {family: FONT, size: 28};
const titleFont = {family: FONT, size: 31};

// keep the tick labels from pushing the plot area around
function noPad(s) { s.paddingTop = 0; s.paddingBottom = 0; s.paddingLeft = 0; s.paddingRight = 0; }

function timeAxis(showLabels) {
  const ax = {
    type: 'linear', min: 60507.70, max: 60517.50,
    grid: {display: false, drawTicks: false}, border: {display: false}
  };
  if (!showLabels) { ax.display = false; return ax; }
  ax.afterBuildTicks = s => { s.ticks = timeTicks.map(v => ({value: v})); };
  ax.afterFit = s => { s.height = 81; noPad(s); };
  ax.ticks = {font: tickFont, padding: 4, maxRotation: 0, autoSkip: false, callback: v => String(v)};
  ax.title = {display: true, text: 'Time (MJD, TT)', font: titleFont, padding: {top: 0, bottom: 1}};
  return ax;
}
function valueAxis(min, max, ticks, fmt, title, titlePad, lineHeight) {
  return {
    type: 'linear', min: min, max: max,
    grid: {display: false, drawTicks: false}, border: {display: false},
    afterBuildTicks: s => { s.ticks = ticks.map(v => ({value: v})); },
    afterFit: s => { s.width = 162; noPad(s); },
    ticks: {font: tickFont, padding: 10, autoSkip: false, callback: fmt},
    title: {display: true, text: title, font: Object.assign({lineHeight: lineHeight}, titleFont), padding: {top: titlePad, bottom: 0}}
  };
}
function baseOptions(padding, scales, plugins) {
  return {
    responsive: false, animation: false, events: [],
    layout: {padding: padding, autoPadding: false},
    scales: scales,
    plugins: Object.assign({legend: {display: false}, tooltip: {enabled: false}}, plugins)
  };
}

// panel a (canvas runs 18px past the frame so the "0" label is not cut)
new Chart(document.getElementById('panelA'), {
  type: 'scatter',
  data: {datasets: [Object.assign(crossSet('Rate', pts(rateTime, rateValue), '#000', 8, 2, 1),
    {err: {x: rateTime.map(() => 0.02), y: rateErr, xWidth: 2, yWidth: 2}})]},
  options: baseOptions({top: 6, right: 3, left: 0, bottom: 18}, {
    x: timeAxis(false),
    y: valueAxis(-0.1, 5.3, rateTicks, v => String(v), 'Rate', 49, 1.2)
  }, {frameTicks: {xMajor: timeTicks, xMinor: timeMinor, yMajor: rateTicks, yMinor: [1, 3, 5],
    label: 'a)', labelDx: 26, labelDy: 16}})
});

// panel b
new Chart(document.getElementById('panelB'), {
  type: 'scatter',
  data: {datasets: [Object.assign(crossSet('Gamma', pts(specTime, gammaValue), '#000', 8.5, 2, 1),
    {err: {x: specTimeErr, y: gammaErr, xWidth: 3.5, yWidth: 2}})]},
  options: baseOptions({top: 0, right: 3, left: 0, bottom: 0}, {
    x: timeAxis(false),
    y: valueAxis(1.817, 2.663, gammaTicks, v => v.toFixed(1), 'Γ', 49, 1.2)
  }, {frameTicks: {xMajor: timeTicks, xMinor: timeMinor, yMajor: gammaTicks,
    yMinor: [1.9, 2.1, 2.2, 2.3, 2.4, 2.6], label: 'b)', labelDx: 26, labelDy: 34}})
});

// panel c (canvas starts 50px higher so the two-line title has room)
new Chart(document.getElementById('panelC'), {
  type: 'scatter',
  data: {datasets: [Object.assign(crossSet('Flux', pts(specTime, fluxValue), '#000', 8.5, 2, 1),
    {err: {x: specTimeErr, y: fluxErr, xWidth: 3.5, yWidth: 2}})]},
  options: baseOptions({top: 50, right: 3, left: 0, bottom: 0}, {
    x: timeAxis(true),
    y: valueAxis(2.57, 9.24, fluxTicks, v => String(v), ['Unabs.', 'Flux (10⁻¹²)'], 4, 1.32)
  }, {frameTicks: {xMajor: timeTicks, xMinor: timeMinor, yMajor: fluxTicks, yMinor: [3, 5, 7, 9],
    label: 'c)', labelDx: 26, labelDy: 29}})
});

function logAxis(min, max, ticks, width, height, title, titlePad) {
  const ax = {
    type: 'logarithmic', min: min, max: max,
    grid: {display: false, drawTicks: false}, border: {display: false},
    afterBuildTicks: s => { s.ticks = ticks.map(v => ({value: v})); },
    ticks: {font: tickFont, autoSkip: false, maxRotation: 0, minRotation: 0, callback: v => powLabel(v)},
    title: {display: true, text: title, font: titleFont}
  };
  if (width) {
    ax.afterFit = s => { s.width = width; noPad(s); };
    ax.ticks.padding = 11;
    ax.title.padding = {top: titlePad, bottom: 0};
  } else {
    ax.afterFit = s => { s.height = height; noPad(s); };
    ax.ticks.padding = 4;
    ax.title.padding = {top: 0, bottom: 1};
  }
  return ax;
}

// panel d
new Chart(document.getElementById('panelD'), {
  type: 'scatter',
  data: {datasets: [
    crossSet('Blazar', pairs(blazarCurvVar), '#000000', 9.5, 2.2, 4),
    crossSet('PSR', pairs(psrCurvVar), '#ff0000', 9.5, 2.2, 3),
    crossSet('Unassoc.', pairs(unassocCurvVar), 'rgba(0,0,255,0.5)', 9.5, 2.2, 2),
    {label: '4FGL J0031.5-5648', data: pairs(sourceCurvVar), order: 1, showLine: false,
      pointStyle: triImg, pointRadius: 18, pointHoverRadius: 18}
  ]},
  options: baseOptions({top: 12, right: 13, left: 0, bottom: 0}, {
    x: logAxis(0.02564, 385.5, curvTicks, 0, 84, 'Curvature Significance'),
    y: logAxis(1.486, 28500, varTicks, 163, 0, 'Variability Index', 50)
  }, {
    frameTicks: {xMajor: curvTicks, xMinor: logMinor(-2, 2), yMajor: varTicks, yMinor: logMinor(0, 4),
      label: 'd)', labelDx: 9, labelDy: 27},
    thresholds: {x: curvThreshold, y: varThreshold},
    boxLegend: {items: [
      {text: 'Blazar', color: '#000000', marker: 'x'},
      {text: 'PSR', color: '#ff0000', marker: 'x'},
      {text: 'Unassoc.', color: 'rgba(0,0,255,0.5)', marker: 'x'},
      {text: '4FGL J0031.5-5648', color: '#bf00bf', marker: 'tri'}
    ]}
  })
});

// panel e
new Chart(document.getElementById('panelE'), {
  type: 'scatter',
  data: {datasets: [
    crossSet('Blazar', pairs(blazarEpeakBeta), '#000000', 8.5, 1.9, 4),
    crossSet('PSR', pairs(psrEpeakBeta), '#ff0000', 8.5, 1.9, 3),
    crossSet('Unassoc.', pairs(unassocEpeakBeta), 'rgba(0,0,255,0.5)', 8.5, 1.9, 2),
    {label: '4FGL J0031.5-5648', data: pairs(sourceEpeakBeta), order: 1, showLine: false,
      pointStyle: triImg, pointRadius: 18, pointHoverRadius: 18}
  ]},
  options: baseOptions({top: 12, right: 3, left: 0, bottom: 0}, {
    x: logAxis(0.0306, 3.2e8, epeakTicks, 0, 84, 'LP_EPeak (MeV)'),
    y: logAxis(0.001, 1.596, betaTicks, 154, 0, 'LP_Beta', 24)
  }, {
    frameTicks: {xMajor: epeakTicks, xMinor: [], yMajor: betaTicks, yMinor: logMinor(-3, 0),
      label: 'e)', labelDx: 17, labelDy: 27}
  })
});
</script>
</body>
</html>
